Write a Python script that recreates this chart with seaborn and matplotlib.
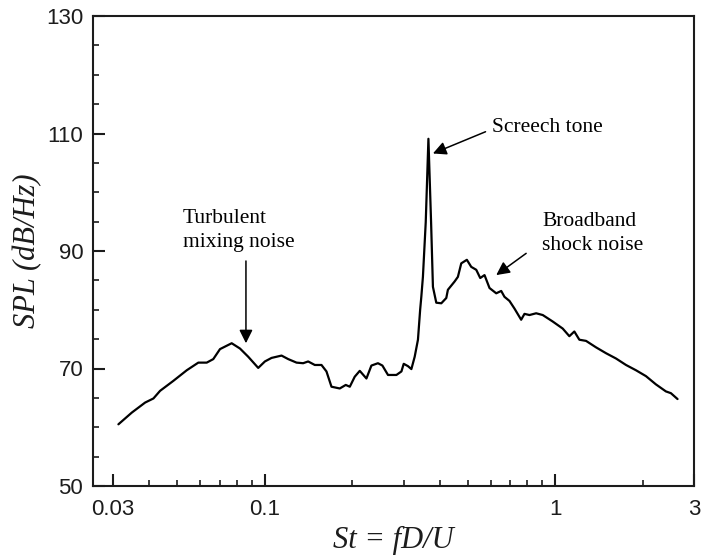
import matplotlib
matplotlib.use("Agg")
import matplotlib.pyplot as plt
from matplotlib.ticker import FixedLocator, FixedFormatter, NullFormatter
import pandas as pd
import seaborn as sns

# Far-field jet noise spectrum: Strouhal number vs. sound pressure level
strouhal = [
    0.03131, 0.03483, 0.03869, 0.04133, 0.04357, 0.04841, 0.05382, 0.05899,
    0.06306, 0.06642, 0.07005, 0.07685, 0.08207, 0.08762, 0.09484, 0.1000,
    0.1054, 0.1141, 0.1203, 0.1285, 0.1354, 0.1409, 0.1485, 0.1566,
    0.1629, 0.1695, 0.1810, 0.1898, 0.1960, 0.2038, 0.2121, 0.2236,
    0.2326, 0.2450, 0.2538, 0.2653, 0.2836, 0.2951, 0.3005, 0.3108,
    0.3193, 0.3278, 0.3364, 0.3423, 0.3455, 0.3499, 0.3578, 0.3655,
    0.3733, 0.3788, 0.3890, 0.4048, 0.4211, 0.4265, 0.4497, 0.4617,
    0.4742, 0.4957, 0.5132, 0.5340, 0.5511, 0.5702, 0.5932, 0.6256,
    0.6508, 0.6679, 0.6949, 0.7230, 0.7623, 0.7826, 0.8143, 0.8585,
    0.9046, 0.9788, 1.0595, 1.117, 1.162, 1.209, 1.275, 1.380,
    1.494, 1.617, 1.750, 1.894, 2.050, 2.218, 2.401, 2.498, 2.633,
]
spl_db = [
    60.5, 62.5, 64.2, 64.9, 66.2, 67.9, 69.7, 71.0,
    71.0, 71.6, 73.3, 74.3, 73.4, 72.0, 70.1, 71.2,
    71.8, 72.2, 71.6, 71.0, 70.9, 71.2, 70.6, 70.6,
    69.5, 66.9, 66.6, 67.2, 66.9, 68.6, 69.6, 68.3,
    70.5, 70.9, 70.5, 68.9, 68.9, 69.5, 70.8, 70.4,
    69.9, 72.0, 74.9, 80.0, 82.2, 85.6, 94.9, 109.1,
    94.9, 83.9, 81.2, 81.1, 82.0, 83.4, 84.8, 85.6,
    87.9, 88.5, 87.3, 86.8, 85.4, 85.9, 83.7, 82.8,
    83.2, 82.2, 81.5, 80.2, 78.3, 79.3, 79.1, 79.4,
    79.1, 78.0, 76.8, 75.5, 76.3, 74.9, 74.7, 73.6,
    72.6, 71.7, 70.6, 69.7, 68.7, 67.3, 66.1, 65.8, 64.8,
]

x_major = [0.03, 0.1, 1, 3]
x_major_labels = ["0.03", "0.1", "1", "3"]
x_minor = [0.04, 0.05, 0.06, 0.07, 0.08, 0.09,
           0.2, 0.3, 0.4, 0.5, 0.6, 0.7, 0.8, 0.9, 2]
y_major = [50, 70, 90, 110, 130]
y_minor = [55, 60, 65, 75, 80, 85, 95, 100, 105, 115, 120, 125]

df = pd.DataFrame({"St": strouhal, "SPL": spl_db})

sns.set_style("ticks")
plt.rcParams["font.family"] = ["Liberation Sans", "DejaVu Sans"]

fig = plt.figure(figsize=(7.01, 5.59), dpi=100)
ax = fig.add_axes([93 / 701, 1 - 486 / 559, (694 - 93) / 701, (486 - 16) / 559])

sns.lineplot(data=df, x="St", y="SPL", ax=ax, color="black", linewidth=1.6,
             estimator=None, sort=False)

ax.set_xscale("log")
ax.set_xlim(0.0256, 3.0)
ax.set_ylim(50, 130)

ax.xaxis.set_major_locator(FixedLocator(x_major))
ax.xaxis.set_major_formatter(FixedFormatter(x_major_labels))
ax.xaxis.set_minor_locator(FixedLocator(x_minor))
ax.xaxis.set_minor_formatter(NullFormatter())
ax.yaxis.set_major_locator(FixedLocator(y_major))
ax.yaxis.set_minor_locator(FixedLocator(y_minor))

ink = "#1c1c1c"
for side in ["left", "right", "top", "bottom"]:
    ax.spines[side].set_visible(True)
    ax.spines[side].set_linewidth(1.5)
    ax.spines[side].set_color(ink)

ax.tick_params(which="major", direction="in", length=8.5, width=1.5,
               color=ink, labelsize=16, labelcolor=ink)
ax.tick_params(axis="y", which="major", pad=7)
ax.tick_params(axis="x", which="major", pad=9.5)
ax.tick_params(which="minor", direction="in", length=4.5, width=1.2, color=ink)
ax.tick_params(top=False, right=False, which="both")

serif = ["Liberation Serif", "DejaVu Serif"]
ax.set_xlabel("St = fD/U", family=serif, style="italic", fontsize=22,
              color=ink, labelpad=4)
ax.set_ylabel("SPL (dB/Hz)", family=serif, style="italic", fontsize=22,
              color=ink, labelpad=3)

arrow = dict(arrowstyle="-|>", color="black", lw=1.1, mutation_scale=20,
             shrinkA=0, shrinkB=0)
note_kw = dict(family=serif, fontsize=15.5, color="black", linespacing=1.35)

ax.annotate("", xy=(0.08605, 74.3), xytext=(0.08605, 88.3), arrowprops=arrow)
ax.text(0.0521, 90.7, "Turbulent\nmixing noise", ha="left", va="baseline",
        **note_kw)

ax.annotate("", xy=(0.3788, 106.6), xytext=(0.5748, 110.3), arrowprops=arrow)
ax.text(0.606, 110.3, "Screech tone", ha="left", va="baseline", **note_kw)

ax.annotate("", xy=(0.6256, 85.9), xytext=(0.7931, 89.6), arrowprops=arrow)
ax.text(0.900, 90.2, "Broadband\nshock noise", ha="left", va="baseline",
        **note_kw)

fig.savefig("out.png", dpi=100)
